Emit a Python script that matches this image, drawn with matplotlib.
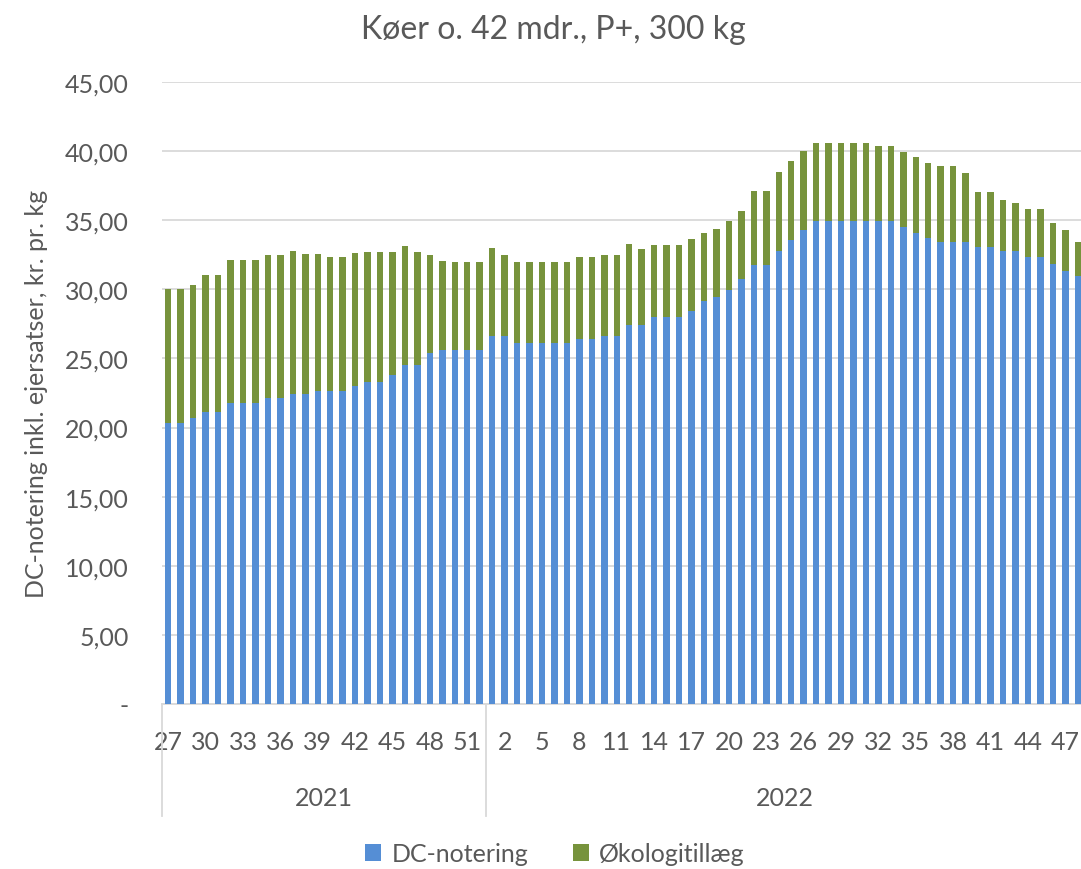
import matplotlib.pyplot as plt
from matplotlib.ticker import FixedLocator

# week numbers per year
weeks_2021 = list(range(27, 53))
weeks_2022 = list(range(1, 49))

# DC-notering (blue, base)
dc_2021 = [20.34, 20.34, 20.66, 21.16, 21.16, 21.77, 21.77, 21.77, 22.15, 22.15,
           22.44, 22.44, 22.68, 22.68, 22.68, 23.00, 23.28, 23.28, 23.79, 24.54,
           24.54, 25.36, 25.60, 25.60, 25.60, 25.60]
dc_2022 = [26.61, 26.61, 26.13, 26.13, 26.13, 26.13, 26.13, 26.42, 26.42, 26.61,
           26.61, 27.41, 27.41, 28.01, 28.01, 28.01, 28.40, 29.17, 29.46, 29.94,
           30.74, 31.73, 31.73, 32.79, 33.56, 34.31, 34.91, 34.91, 34.91, 34.91,
           34.91, 34.91, 34.91, 34.52, 34.09, 33.70, 33.44, 33.44, 33.44, 33.08,
           33.08, 32.76, 32.76, 32.35, 32.35, 31.85, 31.34, 30.96]

# Økologitillæg (green, stacked on top)
oeko_2021 = [9.66, 9.66, 9.64, 9.87, 9.87, 10.32, 10.32, 10.32, 10.35, 10.35,
             10.35, 10.11, 9.87, 9.63, 9.63, 9.62, 9.39, 9.39, 8.88, 8.61,
             8.13, 7.09, 6.42, 6.40, 6.40, 6.40]
oeko_2022 = [6.39, 5.86, 5.87, 5.87, 5.87, 5.87, 5.87, 5.89, 5.89, 5.86,
             5.86, 5.88, 5.50, 5.19, 5.19, 5.19, 5.21, 4.92, 4.92, 4.97,
             4.92, 5.40, 5.40, 5.69, 5.69, 5.69, 5.69, 5.69, 5.69, 5.69,
             5.69, 5.43, 5.43, 5.43, 5.48, 5.46, 5.47, 5.47, 4.97, 3.93,
             3.93, 3.72, 3.45, 3.48, 3.48, 2.96, 2.94, 2.43]

years = ['2021', '2022']
y_ticks = [0, 5, 10, 15, 20, 25, 30, 35, 40, 45]

blue = '#558ed5'
green = '#77933c'
txt = '#595959'
grid = '#d9d9d9'
fs = 18

plt.rcParams['font.family'] = ['Lato', 'DejaVu Sans']

weeks = weeks_2021 + weeks_2022
dc = dc_2021 + dc_2022
oeko = oeko_2021 + oeko_2022
x = list(range(len(weeks)))

fig = plt.figure(figsize=(10.81, 8.70), dpi=100)
W, H = 1081, 870
left, right, top, bottom = 162, 1084, 83, 705
ax = fig.add_axes([left / W, 1 - bottom / H, (right - left) / W, (bottom - top) / H])

ax.bar(x, dc, width=0.52, color=blue, label='DC-notering', zorder=3)
ax.bar(x, oeko, width=0.52, bottom=dc, color=green, label='Økologitillæg', zorder=3)

ax.set_xlim(-0.5, len(x) - 0.5)
ax.set_ylim(0, 45)
ax.yaxis.set_major_locator(FixedLocator(y_ticks))
ax.set_yticklabels(['-' if v == 0 else f'{v:.2f}'.replace('.', ',') for v in y_ticks])
ax.grid(axis='y', color=grid, linewidth=1.3, zorder=0)
for s in ['top', 'right', 'left']:
    ax.spines[s].set_visible(False)
ax.spines['bottom'].set_color(grid)
ax.spines['bottom'].set_linewidth(1.3)
ax.tick_params(axis='y', length=0, labelsize=fs, colors=txt, pad=24)
ax.tick_params(axis='x', length=0, labelsize=fs, colors=txt, pad=19)

lab_idx = x[::3]
ax.set_xticks(lab_idx)
ax.set_xticklabels([str(weeks[i]) for i in lab_idx])

# year level of the category axis
n21 = len(weeks_2021)
bounds = [-0.5, n21 - 0.5, len(x) - 0.5]
for b in bounds:
    ax.plot([b, b], [0, -8.1], color=grid, linewidth=1.3, clip_on=False)
for i, yr in enumerate(years):
    ax.text((bounds[i] + bounds[i + 1]) / 2, -6.75, yr, ha='center', va='center',
            fontsize=fs, color=txt)

ax.set_ylabel('DC-notering inkl. ejersatser, kr. pr. kg', fontsize=fs, color=txt, labelpad=12)
fig.text(553 / W, 1 - 30 / H, 'Køer o. 42 mdr., P+, 300 kg', ha='center', va='center',
         fontsize=23, color=txt)

fig.legend(loc='center', bbox_to_anchor=(555 / W, 1 - 855 / H), ncol=2, frameon=False,
           fontsize=fs, labelcolor=txt, handlelength=0.65, handleheight=0.65,
           handletextpad=0.4, columnspacing=1.8)

fig.savefig('out.png', dpi=100)
